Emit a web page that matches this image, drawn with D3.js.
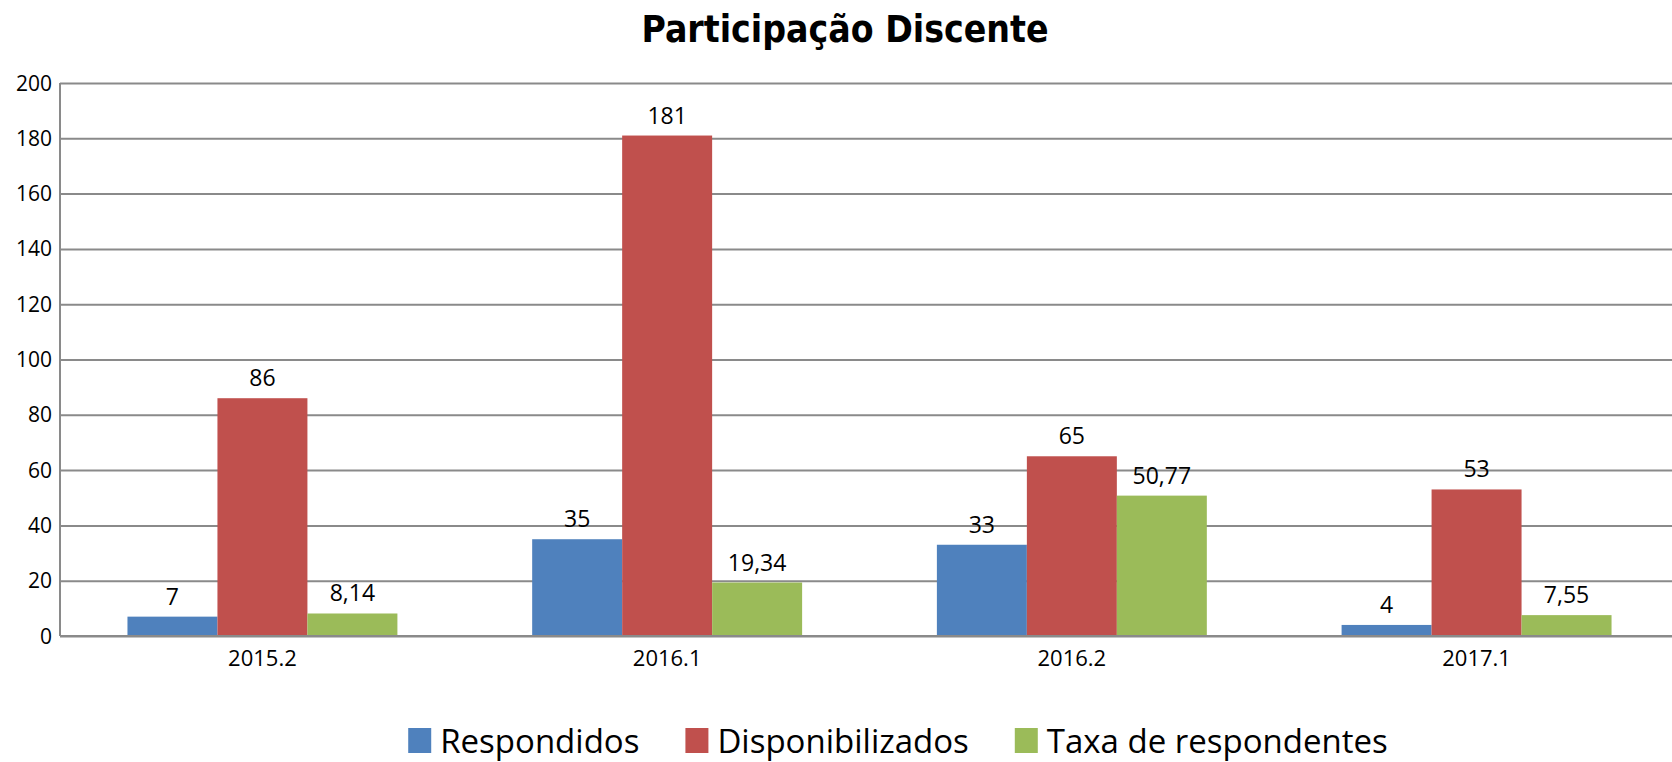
<!DOCTYPE html>
<html>
<head>
<meta charset="utf-8">
<script src="https://cdn.jsdelivr.net/npm/d3@7"></script>
<style>
  body { margin: 0; background: #fff; }
  svg { display: block; }
</style>
</head>
<body>
<svg id="chart"></svg>
<script>
// data
const categories = ['2015.2', '2016.1', '2016.2', '2017.1'];
const seriesNames = ['Respondidos', 'Disponibilizados', 'Taxa de respondentes'];
const respondidos = [7, 35, 33, 4];
const disponibilizados = [86, 181, 65, 53];
const taxa = [8.14, 19.34, 50.77, 7.55];
const yTicks = [0, 20, 40, 60, 80, 100, 120, 140, 160, 180, 200];

const colors = ['#4F81BD', '#C0504D', '#9BBB59'];
const width = 1672, height = 762;
const margin = { top: 83, right: -7, bottom: 126, left: 60 };
const baseFont = '"Open Sans", "DejaVu Sans", sans-serif';

const series = [respondidos, disponibilizados, taxa];
const rows = categories.map((c, i) => ({ cat: c, vals: series.map(s => s[i]) }));

const ptBR = d3.formatLocale({ decimal: ',', thousands: '.', grouping: [3], currency: ['R$', ''] });
const fmt = ptBR.format('.2~f');

const svg = d3.select('#chart')
  .attr('width', width)
  .attr('height', height)
  .style('font-family', baseFont);

const x = d3.scaleBand()
  .domain(categories)
  .range([margin.left, width - margin.right])
  .paddingInner(0.333)
  .paddingOuter(0.1667);

const xInner = d3.scaleBand()
  .domain(d3.range(seriesNames.length))
  .range([0, x.bandwidth()]);

const y = d3.scaleLinear()
  .domain([0, 200])
  .range([height - margin.bottom, margin.top]);

// gridlines
svg.append('g')
  .attr('transform', `translate(${margin.left},0)`)
  .call(d3.axisLeft(y).tickValues(yTicks).tickSize(-(width - margin.left - margin.right)).tickFormat(''))
  .call(g => g.select('.domain').remove())
  .selectAll('line')
  .attr('stroke', '#8a8a8a')
  .attr('stroke-width', 2);

// y labels
svg.append('g')
  .selectAll('text')
  .data(yTicks)
  .join('text')
  .attr('x', margin.left - 8)
  .attr('y', d => y(d))
  .attr('dy', '0.36em')
  .attr('text-anchor', 'end')
  .style('font-size', '21px')
  .attr('fill', '#000')
  .text(d => d);

// left axis line
svg.append('line')
  .attr('x1', margin.left).attr('x2', margin.left)
  .attr('y1', y(200)).attr('y2', y(0))
  .attr('stroke', '#8a8a8a')
  .attr('stroke-width', 2);

// bars
const groups = svg.append('g')
  .selectAll('g')
  .data(rows)
  .join('g')
  .attr('transform', d => `translate(${x(d.cat)},0)`);

groups.selectAll('rect')
  .data(d => d.vals)
  .join('rect')
  .attr('x', (d, i) => xInner(i))
  .attr('width', xInner.bandwidth())
  .attr('y', d => y(d))
  .attr('height', d => y(0) - y(d))
  .attr('fill', (d, i) => colors[i]);

groups.selectAll('text')
  .data(d => d.vals)
  .join('text')
  .attr('x', (d, i) => xInner(i) + xInner.bandwidth() / 2)
  .attr('y', d => y(d) - 12)
  .attr('text-anchor', 'middle')
  .style('font-size', '23px')
  .attr('fill', '#000')
  .text(d => fmt(d));

// x axis line
svg.append('line')
  .attr('x1', margin.left).attr('x2', width)
  .attr('y1', y(0)).attr('y2', y(0))
  .attr('stroke', '#8a8a8a')
  .attr('stroke-width', 2);

// x labels
svg.append('g')
  .selectAll('text')
  .data(categories)
  .join('text')
  .attr('x', d => x(d) + x.bandwidth() / 2)
  .attr('y', y(0) + 30)
  .attr('text-anchor', 'middle')
  .style('font-size', '22px')
  .attr('fill', '#000')
  .text(d => d);

// title
svg.append('text')
  .attr('x', 845)
  .attr('y', 42)
  .attr('text-anchor', 'middle')
  .style('font-family', '"Liberation Sans Narrow", "DejaVu Sans Condensed", sans-serif')
  .style('font-weight', 'bold')
  .style('font-size', '37px')
  .attr('fill', '#000')
  .text('Participação Discente');

// legend
const legendY = height - 9;
const legend = svg.append('g');
const items = legend.selectAll('g')
  .data(seriesNames)
  .join('g');
items.append('rect')
  .attr('width', 23)
  .attr('height', 25)
  .attr('y', -25)
  .attr('fill', (d, i) => colors[i]);
items.append('text')
  .attr('x', 32)
  .style('font-size', '33px')
  .attr('fill', '#000')
  .text(d => d);

let lx = 0;
const gap = 46;
items.each(function () {
  const w = this.getBBox().width;
  d3.select(this).attr('transform', `translate(${lx},0)`);
  lx += w + gap;
});
const total = lx - gap;
legend.attr('transform', `translate(${898 - total / 2},${legendY})`);
</script>
</body>
</html>
